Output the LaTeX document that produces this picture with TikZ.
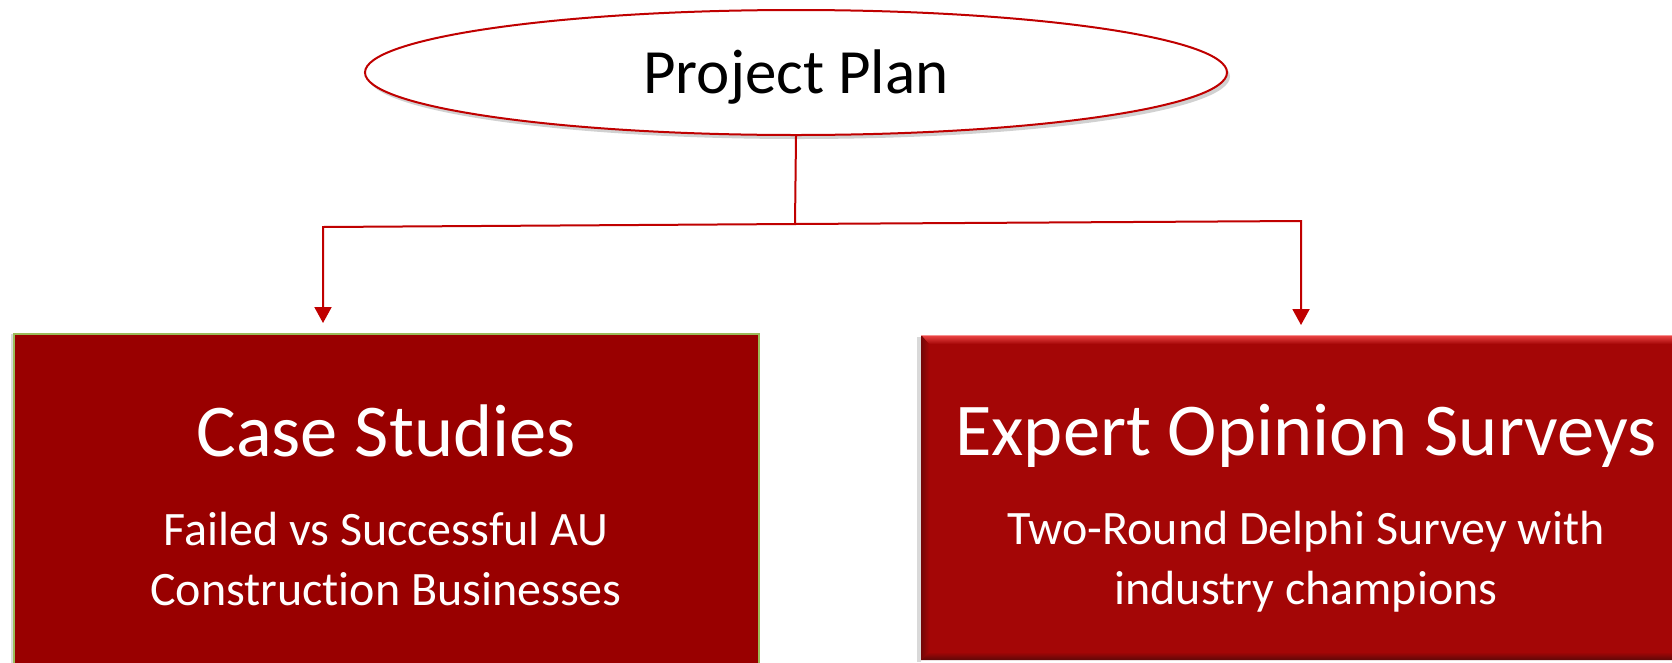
\documentclass[tikz,border=0pt]{standalone}
\usepackage{fontspec}
\setmainfont{Carlito}[Ligatures={NoCommon}]
\usetikzlibrary{arrows.meta,shapes.geometric,shadows}
\definecolor{linered}{HTML}{C00000}
\definecolor{boxred}{HTML}{990000}
\definecolor{boxgreen}{HTML}{9BBB59}
\definecolor{bevred}{HTML}{A40606}
\definecolor{bevlight}{HTML}{F04848}
\definecolor{bevdark}{HTML}{5E0808}
\tikzset{
  conn/.style={draw=linered, line width=2pt},
  tipped/.style={conn, -{Triangle[length=16pt,width=17pt]}, shorten >=10pt},
  planshape/.style={ellipse, draw=linered, line width=2pt, fill=white,
    minimum width=862pt, minimum height=125pt, inner sep=0pt,
    drop shadow={shadow xshift=3pt, shadow yshift=-4pt, opacity=0.18, fill=black}},
  leftbox/.style={rectangle, draw=boxgreen, line width=1.8pt, fill=boxred, inner sep=0pt,
    drop shadow={shadow xshift=-3pt, shadow yshift=0pt, opacity=0.15, fill=black}},
  rightbox/.style={rectangle, fill=bevred, inner sep=0pt},
  titletext/.style={text=white, font=\fontsize{74.5}{90}\selectfont, inner sep=0pt},
  subtext/.style={text=white, align=center, inner sep=0pt, font=\fontsize{48}{60}\selectfont},
}
\begin{document}
\begin{tikzpicture}[x=1pt,y=-1pt]
\useasboundingbox (0,0) rectangle (1672,662);
\clip (0,0) rectangle (1672,662);
\fill[white] (0,0) rectangle (1672,662);
% top ellipse
\node[planshape] (plan) at (796,72.5) {};
\node[anchor=base, inner sep=0pt, font=\fontsize{63}{75}\selectfont] (plantext) at (796,93) {Project Plan};
% left box
\node[leftbox, anchor=north west, minimum width=745pt, minimum height=345pt] (cs) at (13,333) {};
\node[titletext, anchor=base] (cstitle) at (386,456) {Case Studies};
\node[subtext, anchor=base] (cssub) at (386,605) {Failed vs Successful AU\\Construction Businesses};
% right box with bevel
\fill[black, opacity=0.15] (917,337) rectangle (921,662);
\node[rightbox, anchor=north west, minimum width=770pt, minimum height=325pt] (eo) at (921,335) {};
\shade[top color=bevlight, bottom color=bevred] (921,335) -- (1691,335) -- (1683,344) -- (929,344) -- cycle;
\shade[left color=bevdark!70!bevred, right color=bevred] (921,335) -- (929,344) -- (929,652) -- (921,660) -- cycle;
\shade[top color=bevred, bottom color=bevdark] (921,660) -- (929,652) -- (1683,652) -- (1691,660) -- cycle;
\draw[bevlight!60!white, line width=0.8pt] (921,335.5) -- (1691,335.5);
\node[titletext, anchor=base] (eotitle) at (1306,455) {Expert Opinion Surveys};
\node[subtext, anchor=base] (eosub) at (1306,604) {Two-Round Delphi Survey with\\industry champions};
% connectors
\coordinate (hl) at (323,227);
\coordinate (hr) at (1301,221);
\coordinate (junction) at (795,224);
\draw[conn] (plan.south) -- (junction);
\draw[tipped] (junction) -- (hl) -- (hl |- cs.north);
\draw[tipped] (junction) -- (hr) -- (hr |- eo.north);
\end{tikzpicture}
\end{document}
